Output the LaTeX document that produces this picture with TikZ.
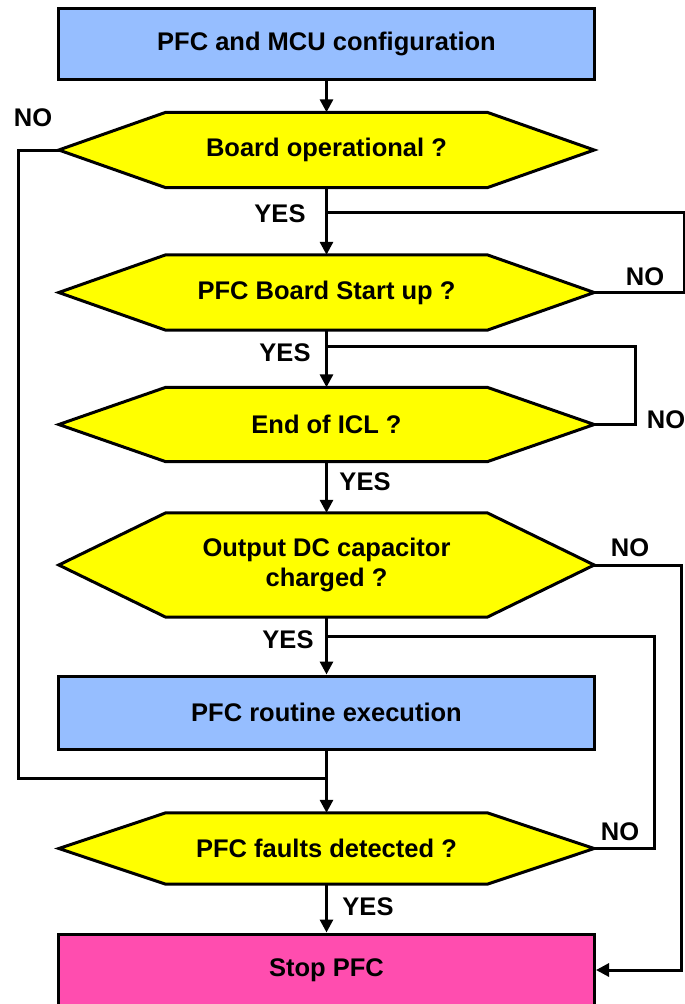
\documentclass[tikz,border=0pt]{standalone}
\usepackage{fontspec}
\setmainfont{Liberation Sans}
\usetikzlibrary{arrows.meta,backgrounds}
\definecolor{boxblue}{RGB}{150,190,255}
\definecolor{hexyellow}{RGB}{255,255,0}
\definecolor{stoppink}{RGB}{255,77,175}
\tikzset{
  every node/.style={font=\fontsize{25.5}{29}\selectfont\bfseries},
  procbox/.style={draw=black, line width=3pt, fill=boxblue, minimum width=536pt, inner sep=0pt, align=center},
  hexnode/.style={minimum width=535pt, inner sep=0pt, align=center},
  hexshape/.style={draw=black, line width=3pt, fill=hexyellow, line join=miter},
  conn/.style={line width=3pt, -{Triangle[width=13pt,length=13pt]}},
  plain/.style={line width=3pt},
  lbl/.style={inner sep=0pt}
}
\newcommand{\hexdraw}[1]{%
  \draw[hexshape] (#1.west) -- ([xshift=107pt]#1.north west) -- ([xshift=-107pt]#1.north east)
    -- (#1.east) -- ([xshift=-107pt]#1.south east) -- ([xshift=107pt]#1.south west) -- cycle;}
\begin{document}
\begin{tikzpicture}[x=1pt,y=-1pt]
\useasboundingbox (0,0) rectangle (685,1004);
\begin{scope}
\clip (0,0) rectangle (685,1004);
% nodes
\node[procbox, minimum height=71pt] (cfg) at (326.5,43.5) {PFC and MCU configuration};
\node[hexnode, minimum height=75pt] (d1) at (326.5,150) {Board operational ?};
\node[hexnode, minimum height=75pt] (d2) at (326.5,292.5) {PFC Board Start up ?};
\node[hexnode, minimum height=74pt] (d3) at (326.5,424.5) {End of ICL ?};
\node[hexnode, minimum height=104pt] (d4) at (326.5,565) {Output DC capacitor\\[1pt]charged ?};
\node[procbox, minimum height=73pt] (run) at (326.5,712.5) {PFC routine execution};
\node[hexnode, minimum height=71pt] (d5) at (326.5,848.5) {PFC faults detected ?};
\node[procbox, minimum height=72pt, fill=stoppink] (stop) at (326.5,970) {Stop PFC};
\begin{scope}[on background layer]
\hexdraw{d1}
\hexdraw{d2}
\hexdraw{d3}
\hexdraw{d4}
\hexdraw{d5}
\end{scope}
% junction coordinates
\coordinate (j1) at (326.5,212);
\coordinate (j2) at (326.5,346);
\coordinate (j3) at (326.5,636);
\coordinate (j4) at (326.5,778);
% main flow
\draw[conn] (cfg.south) -- (d1.north);
\draw[conn] (d1.south) -- (d2.north);
\draw[conn] (d2.south) -- (d3.north);
\draw[conn] (d3.south) -- (d4.north);
\draw[conn] (d4.south) -- (run.north);
\draw[conn] (run.south) -- (d5.north);
\draw[conn] (d5.south) -- (stop.north);
% loops
\draw[plain] (d2.east) -- (684,292.5) -- (684,212) -- (j1);
\draw[plain] (d3.east) -- (635,424.5) -- (635,346) -- (j2);
\draw[plain] (d5.east) -- (654,848.5) -- (654,636) -- (j3);
\draw[plain] (d1.west) -- (18,150) -- (18,778) -- (j4);
\draw[conn] (d4.east) -- (681,565) -- (681,970) -- (stop.east);
\end{scope}
% labels
\node[lbl] (n1) at (33,118) {NO};
\node[lbl] (y1) at (280,214) {YES};
\node[lbl] (n2) at (645,277) {NO};
\node[lbl] (y2) at (285,353) {YES};
\node[lbl] (n3) at (666,420) {NO};
\node[lbl] (y3) at (365,482) {YES};
\node[lbl] (n4) at (630,548) {NO};
\node[lbl] (y4) at (288,640) {YES};
\node[lbl] (n5) at (620,832) {NO};
\node[lbl] (y5) at (368,907) {YES};
\end{tikzpicture}
\end{document}
